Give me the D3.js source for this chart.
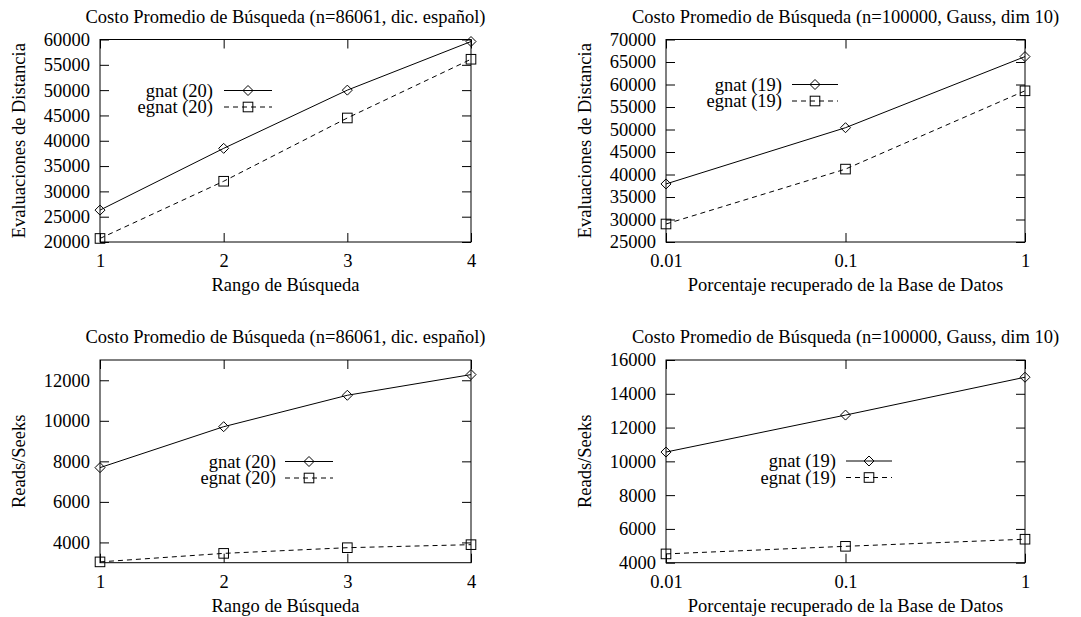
<!DOCTYPE html>
<html>
<head>
<meta charset="utf-8">
<script src="https://cdn.jsdelivr.net/npm/d3@7"></script>
<style>
  body { margin: 0; background: #fff; }
  text { font-family: "Liberation Serif", "Times New Roman", serif; font-size: 18.5px; fill: #000; }
</style>
</head>
<body>
<div id="chart"></div>
<script>
// data
var rangos = [1, 2, 3, 4];
var porcentajes = [0.01, 0.1, 1];

var evalGnat20 = [26300, 38500, 50000, 59600];
var evalEgnat20 = [20700, 32000, 44500, 56100];
var evalGnat19 = [37900, 50400, 66200];
var evalEgnat19 = [29000, 41200, 58600];

var seeksGnat20 = [7690, 9710, 11260, 12280];
var seeksEgnat20 = [3040, 3460, 3740, 3890];
var seeksGnat19 = [10550, 12740, 14980];
var seeksEgnat19 = [4520, 4970, 5390];

// tick labels
var rangoTicks = [1, 2, 3, 4];
var porcTicks = [0.01, 0.1, 1];
var evalTicks20 = [20000, 25000, 30000, 35000, 40000, 45000, 50000, 55000, 60000];
var evalTicks19 = [25000, 30000, 35000, 40000, 45000, 50000, 55000, 60000, 65000, 70000];
var seeksTicks20 = [4000, 6000, 8000, 10000, 12000];
var seeksTicks19 = [4000, 6000, 8000, 10000, 12000, 14000, 16000];

var tituloDic = "Costo Promedio de Búsqueda (n=86061, dic. español)";
var tituloGauss = "Costo Promedio de Búsqueda (n=100000, Gauss, dim 10)";

var svg = d3.select("#chart").append("svg")
  .attr("width", 1081)
  .attr("height", 617);

// one entry per panel: layout + references to the arrays above
var panels = [
  { left: 100, right: 471, top: 39.5, bottom: 242, log: false,
    xs: rangos, xTicks: rangoTicks, yDomain: [20000, 60000], yTicks: evalTicks20,
    a: evalGnat20, b: evalEgnat20, n: "20", title: tituloDic,
    xTitle: "Rango de Búsqueda", yTitle: "Evaluaciones de Distancia",
    key: { textRight: 213, x0: 224, x1: 272, y: 90.5 } },
  { left: 666, right: 1025, top: 39.5, bottom: 242, log: true,
    xs: porcentajes, xTicks: porcTicks, yDomain: [25000, 70000], yTicks: evalTicks19,
    a: evalGnat19, b: evalEgnat19, n: "19", title: tituloGauss,
    xTitle: "Porcentaje recuperado de la Base de Datos", yTitle: "Evaluaciones de Distancia",
    key: { textRight: 782, x0: 792, x1: 838, y: 84.5 } },
  { left: 100, right: 471, top: 360, bottom: 562.7, log: false,
    xs: rangos, xTicks: rangoTicks, yDomain: [3000, 13000], yTicks: seeksTicks20,
    a: seeksGnat20, b: seeksEgnat20, n: "20", title: tituloDic,
    xTitle: "Rango de Búsqueda", yTitle: "Reads/Seeks",
    key: { textRight: 276, x0: 285, x1: 333, y: 461.5 } },
  { left: 666, right: 1025, top: 360, bottom: 562.7, log: true,
    xs: porcentajes, xTicks: porcTicks, yDomain: [4000, 16000], yTicks: seeksTicks19,
    a: seeksGnat19, b: seeksEgnat19, n: "19", title: tituloGauss,
    xTitle: "Porcentaje recuperado de la Base de Datos", yTitle: "Reads/Seeks",
    key: { textRight: 836, x0: 846, x1: 892, y: 461 } }
];

var tickLen = 9;
var dash = "5,4";

function diamond(g, x, y) {
  var r = 5;
  g.append("path")
    .attr("d", `M${x},${y - r}L${x + r},${y}L${x},${y + r}L${x - r},${y}Z`)
    .attr("fill", "none").attr("stroke", "#000").attr("stroke-width", 1);
}

function square(g, x, y) {
  var r = 4.8;
  g.append("rect")
    .attr("x", x - r).attr("y", y - r)
    .attr("width", 2 * r).attr("height", 2 * r)
    .attr("fill", "none").attr("stroke", "#000").attr("stroke-width", 1);
}

panels.forEach(function(p) {
  var g = svg.append("g");
  var w = p.right - p.left, h = p.bottom - p.top;

  var x = (p.log ? d3.scaleLog() : d3.scaleLinear())
    .domain(d3.extent(p.xs))
    .range([p.left, p.right]);
  var y = d3.scaleLinear()
    .domain(p.yDomain)
    .range([p.bottom, p.top]);

  // axes with inward ticks, mirrored on the other side
  var fmtX = p.log ? (d => String(d)) : d3.format("d");
  g.append("g")
    .attr("transform", `translate(0,${p.bottom})`)
    .call(d3.axisBottom(x).tickValues(p.xTicks).tickFormat(fmtX).tickSizeInner(-tickLen).tickSizeOuter(0).tickPadding(12))
    .call(a => a.select(".domain").remove());
  g.append("g")
    .attr("transform", `translate(0,${p.top})`)
    .call(d3.axisTop(x).tickValues(p.xTicks).tickSizeInner(-tickLen).tickSizeOuter(0).tickFormat(""))
    .call(a => a.select(".domain").remove());
  g.append("g")
    .attr("transform", `translate(${p.left},0)`)
    .call(d3.axisLeft(y).tickValues(p.yTicks).tickFormat(d3.format("d")).tickSizeInner(-tickLen).tickSizeOuter(0).tickPadding(10))
    .call(a => a.select(".domain").remove());
  g.append("g")
    .attr("transform", `translate(${p.right},0)`)
    .call(d3.axisRight(y).tickValues(p.yTicks).tickSizeInner(-tickLen).tickSizeOuter(0).tickFormat(""))
    .call(a => a.select(".domain").remove());

  g.selectAll(".tick line").attr("stroke", "#000").attr("stroke-width", 1);
  g.selectAll(".tick text")
    .attr("font-family", null).attr("font-size", null)
    .style("font-family", "'Liberation Serif', 'Times New Roman', serif")
    .style("font-size", "18.5px");

  // frame
  g.append("rect")
    .attr("x", p.left).attr("y", p.top)
    .attr("width", w).attr("height", h)
    .attr("fill", "none").attr("stroke", "#000").attr("stroke-width", 1);

  // titles
  g.append("text")
    .attr("x", (p.left + p.right) / 2).attr("y", p.top - 23)
    .attr("dy", "0.35em").attr("text-anchor", "middle")
    .text(p.title);
  g.append("text")
    .attr("x", (p.left + p.right) / 2).attr("y", p.bottom + 43)
    .attr("dy", "0.35em").attr("text-anchor", "middle")
    .text(p.xTitle);
  g.append("text")
    .attr("transform", `translate(${p.left - 81},${(p.top + p.bottom) / 2}) rotate(-90)`)
    .attr("dy", "0.35em").attr("text-anchor", "middle")
    .text(p.yTitle);

  // series
  var line = d3.line()
    .x((d, i) => x(p.xs[i]))
    .y(d => y(d));

  g.append("path")
    .datum(p.a)
    .attr("d", line)
    .attr("fill", "none").attr("stroke", "#000").attr("stroke-width", 1);
  g.append("path")
    .datum(p.b)
    .attr("d", line)
    .attr("fill", "none").attr("stroke", "#000").attr("stroke-width", 1)
    .attr("stroke-dasharray", dash);

  p.a.forEach((d, i) => diamond(g, x(p.xs[i]), y(d)));
  p.b.forEach((d, i) => square(g, x(p.xs[i]), y(d)));

  // legend
  var k = p.key, rowGap = 16.5, mid = (k.x0 + k.x1) / 2;
  g.append("text")
    .attr("x", k.textRight).attr("y", k.y).attr("dy", "0.35em")
    .attr("text-anchor", "end").text("gnat (" + p.n + ")");
  g.append("line")
    .attr("x1", k.x0).attr("x2", k.x1).attr("y1", k.y).attr("y2", k.y)
    .attr("stroke", "#000").attr("stroke-width", 1);
  diamond(g, mid, k.y);

  g.append("text")
    .attr("x", k.textRight).attr("y", k.y + rowGap).attr("dy", "0.35em")
    .attr("text-anchor", "end").text("egnat (" + p.n + ")");
  g.append("line")
    .attr("x1", k.x0).attr("x2", k.x1).attr("y1", k.y + rowGap).attr("y2", k.y + rowGap)
    .attr("stroke", "#000").attr("stroke-width", 1)
    .attr("stroke-dasharray", dash);
  square(g, mid, k.y + rowGap);
});
</script>
</body>
</html>
